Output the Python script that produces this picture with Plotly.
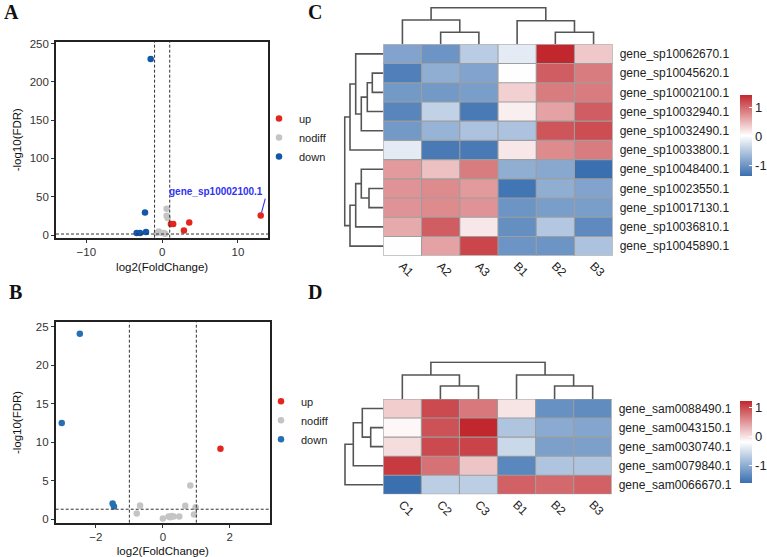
import plotly.graph_objects as go

# ---------------- data ----------------
# Panel A volcano
a_up_x = [1.16, 1.46, 2.87, 3.57, 13.0]
a_up_y = [14.4, 14.4, 6.0, 16.5, 25.6]
a_nd_x = [0.59, 0.59, 0.72, -0.72, -0.45, -0.07, 0.24, 0.40]
a_nd_y = [34.4, 25.2, 22.2, 2.6, 4.5, 2.6, 2.6, 1.8]
a_dn_x = [-1.51, -2.26, -3.36, -2.92, -2.13]
a_dn_y = [230.0, 29.5, 2.6, 2.6, 3.9]
a_label = "gene_sp10002100.1"

# Panel B volcano
b_up_x = [1.72]
b_up_y = [9.16]
b_nd_x = [0.82, -0.68, -0.78, 0.67, 0.98, 0.93, 0.00, 0.17, 0.27, 0.32, 0.22, 0.49]
b_nd_y = [4.38, 1.78, 0.74, 1.74, 1.56, 0.61, 0.09, 0.35, 0.43, 0.35, 0.25, 0.35]
b_dn_x = [-2.48, -3.02, -1.50, -1.46]
b_dn_y = [24.1, 12.5, 2.04, 1.65]

lfc_cut = [-1, 1]
fdr_cut = 1.301  # -log10(0.05)

# Panel C heatmap
genes_C = ['gene_sp10062670.1', 'gene_sp10045620.1', 'gene_sp10002100.1',
           'gene_sp10032940.1', 'gene_sp10032490.1', 'gene_sp10033800.1',
           'gene_sp10048400.1', 'gene_sp10023550.1', 'gene_sp10017130.1',
           'gene_sp10036810.1', 'gene_sp10045890.1']
samples_C = ['A1', 'A2', 'A3', 'B1', 'B2', 'B3']
z_C = [
    [-0.85, -1.00, -0.45, -0.15, 1.45, 0.40],
    [-1.20, -0.75, -0.85, 0.05, 1.10, 0.90],
    [-0.95, -0.95, -0.90, 0.35, 0.90, 0.90],
    [-1.15, -0.40, -1.25, 0.15, 0.65, 1.10],
    [-0.95, -0.70, -0.55, -0.55, 1.15, 1.20],
    [-0.15, -1.25, -1.25, 0.20, 0.80, 0.90],
    [0.70, 0.45, 0.90, -0.75, -0.80, -1.36],
    [0.75, 0.80, 0.70, -1.30, -0.75, -0.85],
    [0.75, 0.80, 0.75, -1.00, -0.90, -0.90],
    [0.60, 1.10, 0.20, -1.05, -0.50, -1.10],
    [0.05, 0.65, 1.25, -1.00, -1.00, -0.55],
]
# linkage: (child_a, child_b, height)
col_link_C = [(1, 2, 12.0), (0, 6, 24.3), (4, 5, 12.0), (3, 8, 23.6), (7, 9, 36.6)]
row_link_C = [(1, 2, 11.0), (11, 3, 16.0), (12, 4, 22.0), (0, 13, 27.6), (14, 5, 33.3),
              (7, 8, 14.3), (6, 16, 22.0), (17, 9, 27.6), (18, 10, 33.3), (15, 19, 38.6)]

# Panel D heatmap
genes_D = ['gene_sam0088490.1', 'gene_sam0043150.1', 'gene_sam0030740.1',
           'gene_sam0079840.1', 'gene_sam0066670.1']
samples_D = ['C1', 'C2', 'C3', 'B1', 'B2', 'B3']
z_D = [
    [0.15, 1.00, 0.70, 0.00, -1.25, -1.30],
    [-0.12, 0.95, 1.23, -0.75, -1.00, -1.05],
    [0.05, 1.00, 1.05, -0.55, -1.10, -1.10],
    [1.10, 0.75, 0.20, -1.35, -0.75, -0.75],
    [-1.58, -0.65, -0.65, 0.85, 0.80, 0.85],
]
col_link_D = [(1, 2, 13.0), (0, 6, 24.0), (4, 5, 13.0), (3, 8, 24.0), (7, 9, 36.7)]
row_link_D = [(1, 2, 12.6), (0, 5, 21.0), (6, 3, 30.0), (7, 4, 38.3)]

# ---------------- helpers ----------------
W, H = 767, 557
FONT = 'Liberation Sans, Arial, sans-serif'
RED, GREY = '#E3261D', '#C4C4C4'
BLUE_A, BLUE_B = '#1257A8', '#2670B2'
HM_SCALE = [[0, '#3A6FB0'], [0.5, '#FFFFFF'], [1, '#C1272D']]
DEND = '#555555'
BORDER = '#9E9E9E'


def dx(a, b):
    return [a / W, b / W]


def dy(top, bottom):
    return [1 - bottom / H, 1 - top / H]


def dendro(n, links):
    pos = list(range(n))
    hts = [0.0] * n
    p, h = [], []
    for a, b, hh in links:
        p += [pos[a], pos[a], pos[b], pos[b], None]
        h += [hts[a], hh, hh, hts[b], None]
        pos.append((pos[a] + pos[b]) / 2)
        hts.append(hh)
    return p, h


def grid(nc, nr):
    xs, ys = [], []
    for i in range(nc + 1):
        xs += [i - 0.5, i - 0.5, None]
        ys += [-0.5, nr - 0.5, None]
    for j in range(nr + 1):
        xs += [-0.5, nc - 0.5, None]
        ys += [j - 0.5, j - 0.5, None]
    return xs, ys


fig = go.Figure()

# ---------------- volcano A ----------------
for xs, ys, nm, col in [(a_up_x, a_up_y, 'up', RED), (a_nd_x, a_nd_y, 'nodiff', GREY),
                        (a_dn_x, a_dn_y, 'down', BLUE_A)]:
    fig.add_trace(go.Scatter(x=xs, y=ys, mode='markers', name=nm, legend='legend',
                             marker=dict(color=col, size=6.5), xaxis='x', yaxis='y'))
# ---------------- volcano B ----------------
for xs, ys, nm, col in [(b_up_x, b_up_y, 'up', RED), (b_nd_x, b_nd_y, 'nodiff', GREY),
                        (b_dn_x, b_dn_y, 'down', BLUE_B)]:
    fig.add_trace(go.Scatter(x=xs, y=ys, mode='markers', name=nm, legend='legend2',
                             marker=dict(color=col, size=6.5), xaxis='x2', yaxis='y2'))


def add_heatmap(z, genes, samples, col_link, row_link, ax, ax_top, ax_left, cb_y, cb_len):
    nr, nc = len(genes), len(samples)
    zmin = min(min(r) for r in z)
    zmax = max(max(r) for r in z)
    fig.add_trace(go.Heatmap(
        z=z, x=list(range(nc)), y=list(range(nr)), colorscale=HM_SCALE,
        zmin=zmin, zmax=zmax, xaxis='x' + ax, yaxis='y' + ax,
        colorbar=dict(x=740 / W, xanchor='left', y=cb_y, yanchor='middle',
                      len=cb_len, lenmode='pixels', thickness=12, thicknessmode='pixels',
                      xpad=0, ypad=0,
                      outlinewidth=0, tickvals=[-1, 0, 1], ticktext=['-1', '0', '1'],
                      ticks='inside', ticklen=3, tickcolor='white',
                      tickfont=dict(size=13, color='#222', family=FONT))))
    gx, gy = grid(nc, nr)
    fig.add_trace(go.Scatter(x=gx, y=gy, mode='lines', line=dict(color=BORDER, width=1.1),
                             showlegend=False, hoverinfo='skip', xaxis='x' + ax, yaxis='y' + ax))
    p, h = dendro(nc, col_link)
    fig.add_trace(go.Scatter(x=p, y=h, mode='lines', line=dict(color=DEND, width=1.6),
                             showlegend=False, hoverinfo='skip',
                             xaxis='x' + ax_top, yaxis='y' + ax_top))
    p, h = dendro(nr, row_link)
    fig.add_trace(go.Scatter(x=h, y=p, mode='lines', line=dict(color=DEND, width=1.6),
                             showlegend=False, hoverinfo='skip',
                             xaxis='x' + ax_left, yaxis='y' + ax_left))


add_heatmap(z_C, genes_C, samples_C, col_link_C, row_link_C, '3', '4', '5',
            1 - 135.4 / H, 81)
add_heatmap(z_D, genes_D, samples_D, col_link_D, row_link_D, '6', '7', '8',
            1 - 441.7 / H, 82)

tickfont = dict(size=11.5, color='#333', family=FONT)
titlefont = dict(size=11.5, color='#111', family=FONT)
frame = dict(showline=True, mirror=True, linecolor='#222', linewidth=1.6, ticks='outside',
             ticklen=3, tickcolor='#333', showgrid=False, zeroline=False, tickfont=tickfont)

lay = dict(
    width=W, height=H, margin=dict(l=0, r=0, t=0, b=0, autoexpand=False),
    paper_bgcolor='white', plot_bgcolor='white', font=dict(family=FONT),
    xaxis=dict(domain=dx(56, 268.3), range=[-14, 14], tickvals=[-10, 0, 10], anchor='y',
               title=dict(text='log2(FoldChange)', font=titlefont, standoff=6), **frame),
    yaxis=dict(domain=dy(41.7, 237.7), range=[-3.5, 252.5], tickvals=[0, 50, 100, 150, 200, 250],
               anchor='x', title=dict(text='-log10(FDR)', font=titlefont, standoff=6), **frame),
    xaxis2=dict(domain=dx(55.7, 270), range=[-3.2, 3.2], tickvals=[-2, 0, 2], anchor='y2',
                title=dict(text='log2(FoldChange)', font=titlefont, standoff=6), **frame),
    yaxis2=dict(domain=dy(322.3, 522.7), range=[-0.45, 25.6], tickvals=[0, 5, 10, 15, 20, 25],
                anchor='x2', title=dict(text='-log10(FDR)', font=titlefont, standoff=12), **frame),
    legend=dict(x=259 / W, xanchor='left', y=1 - 137.5 / H, yanchor='middle',
                font=dict(size=11, color='#222', family=FONT), bgcolor='rgba(0,0,0,0)',
                tracegroupgap=0),
    legend2=dict(x=261 / W, xanchor='left', y=1 - 420.3 / H, yanchor='middle',
                 font=dict(size=11, color='#222', family=FONT), bgcolor='rgba(0,0,0,0)',
                 tracegroupgap=0),
)

hm_tick = dict(size=12, color='#222', family=FONT)
hidden = dict(visible=False, showgrid=False, zeroline=False)


def hm_axes(ax, ax_top, ax_left, xl, xr, yt, yb, genes, samples, top_h, left_h):
    nr, nc = len(genes), len(samples)
    lay['xaxis' + ax] = dict(domain=dx(xl, xr), range=[-0.5, nc - 0.5], anchor='y' + ax,
                             tickvals=list(range(nc)), ticktext=samples, tickangle=45,
                             ticks='', showgrid=False, zeroline=False, showline=False,
                             tickfont=hm_tick)
    lay['yaxis' + ax] = dict(domain=dy(yt, yb), range=[nr - 0.5, -0.5], anchor='x' + ax,
                             side='right', tickvals=list(range(nr)), ticktext=genes,
                             ticks='', showgrid=False, zeroline=False, showline=False,
                             tickfont=hm_tick, ticklabelstandoff=6)
    lay['xaxis' + ax_top] = dict(domain=dx(xl, xr), range=[-0.5, nc - 0.5],
                                 anchor='y' + ax_top, **hidden)
    lay['yaxis' + ax_top] = dict(domain=dy(yt - top_h - 1, yt), range=[0, top_h + 1],
                                 anchor='x' + ax_top, **hidden)
    lay['xaxis' + ax_left] = dict(domain=dx(xl - left_h - 1, xl), range=[left_h + 1, 0],
                                  anchor='y' + ax_left, **hidden)
    lay['yaxis' + ax_left] = dict(domain=dy(yt, yb), range=[nr - 0.5, -0.5],
                                  anchor='x' + ax_left, **hidden)


hm_axes('3', '4', '5', 383.3, 612.7, 44.3, 255.7, genes_C, samples_C,
        max(l[2] for l in col_link_C), max(l[2] for l in row_link_C))
hm_axes('6', '7', '8', 383.3, 611.7, 399, 494.3, genes_D, samples_D,
        max(l[2] for l in col_link_D), max(l[2] for l in row_link_D))

fig.update_layout(**lay)

# threshold lines
dash = dict(color='#333', width=1, dash='3px,2px')
for xa, ya in [('x', 'y'), ('x2', 'y2')]:
    for c in lfc_cut:
        fig.add_shape(type='line', xref=xa, yref=ya + ' domain', x0=c, x1=c, y0=0, y1=1, line=dash)
    fig.add_shape(type='line', xref=xa + ' domain', yref=ya, x0=0, x1=1, y0=fdr_cut, y1=fdr_cut,
                  line=dash)

# gene label in A
fig.add_annotation(x=a_up_x[-1], y=a_up_y[-1], xref='x', yref='y', ax=13.6, ay=47.5,
                   axref='x', ayref='y', text='<b>' + a_label + '</b>', showarrow=True,
                   arrowhead=0, arrowwidth=1.1, arrowcolor='#3232F2', standoff=3,
                   xanchor='right', yanchor='bottom',
                   font=dict(size=10, color='#3232F2', family=FONT))

# panel letters
for t, x, y in [('A', 11, 12), ('B', 15, 292), ('C', 315, 12), ('D', 315, 292)]:
    fig.add_annotation(x=x / W, y=1 - y / H, xref='paper', yref='paper', text='<b>' + t + '</b>',
                       showarrow=False, xanchor='center', yanchor='middle',
                       font=dict(size=20, color='#111', family='Liberation Serif, Times New Roman, serif'))

fig.write_html('out.html')
